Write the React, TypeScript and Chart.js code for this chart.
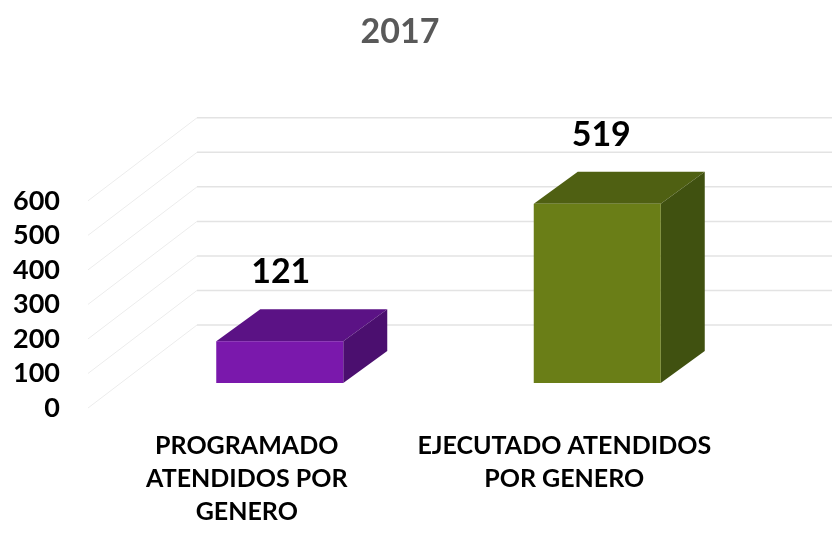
import React, { useEffect, useRef } from "react";
import { Chart, registerables } from "chart.js";

Chart.register(...registerables);

const TITLE = "2017";
const CATEGORIES: string[][] = [
  ["PROGRAMADO", "ATENDIDOS POR", "GENERO"],
  ["EJECUTADO ATENDIDOS", "POR GENERO"],
];
const VALUES: number[] = [121, 519];
const FRONT_COLORS = ["#7A18AC", "#6A7E17"];
const TOP_COLORS = ["#5B1285", "#4F6012"];
const SIDE_COLORS = ["#4B0F6F", "#405110"];
const Y_MIN = 0;
const Y_MAX = 600;
const Y_STEP = 100;

const FONT = "Lato, 'Open Sans', sans-serif";

// 3D geometry (pixels)
const WALL_DX = 109;
const WALL_DY = -83;
const BAR_DX = 33;
const BAR_DY = -25;
const DEPTH_DX = 44;
const DEPTH_DY = -32;

const threeD = {
  id: "threeD",
  beforeDatasetsDraw(chart: any) {
    const { ctx, chartArea, scales } = chart;
    const y = scales.y;
    ctx.save();
    for (let v = Y_MIN; v <= Y_MAX; v += Y_STEP) {
      const yF = y.getPixelForValue(v);
      ctx.beginPath();
      ctx.strokeStyle = "#ececec";
      ctx.lineWidth = 1;
      ctx.moveTo(chartArea.left, yF);
      ctx.lineTo(chartArea.left + WALL_DX, yF + WALL_DY);
      ctx.stroke();
      ctx.beginPath();
      ctx.strokeStyle = "#e3e3e3";
      ctx.lineWidth = 1.5;
      ctx.moveTo(chartArea.left + WALL_DX, yF + WALL_DY);
      ctx.lineTo(chart.width, yF + WALL_DY);
      ctx.stroke();
    }
    ctx.restore();
  },
  afterDatasetsDraw(chart: any) {
    const { ctx } = chart;
    const meta = chart.getDatasetMeta(0);
    ctx.save();
    meta.data.forEach((bar: any, i: number) => {
      const w = bar.width;
      const L = bar.x - w / 2 + BAR_DX;
      const R = bar.x + w / 2 + BAR_DX;
      const T = bar.y + BAR_DY;
      const B = bar.base + BAR_DY;
      // top face
      ctx.fillStyle = TOP_COLORS[i];
      ctx.beginPath();
      ctx.moveTo(L, T);
      ctx.lineTo(L + DEPTH_DX, T + DEPTH_DY);
      ctx.lineTo(R + DEPTH_DX, T + DEPTH_DY);
      ctx.lineTo(R, T);
      ctx.closePath();
      ctx.fill();
      // side face
      ctx.fillStyle = SIDE_COLORS[i];
      ctx.beginPath();
      ctx.moveTo(R, T);
      ctx.lineTo(R + DEPTH_DX, T + DEPTH_DY);
      ctx.lineTo(R + DEPTH_DX, B + DEPTH_DY);
      ctx.lineTo(R, B);
      ctx.closePath();
      ctx.fill();
      // front face
      ctx.fillStyle = FRONT_COLORS[i];
      ctx.fillRect(L, T, R - L, B - T);
      // value label
      ctx.fillStyle = "#000000";
      ctx.font = `bold 34px ${FONT}`;
      ctx.textAlign = "center";
      ctx.textBaseline = "alphabetic";
      ctx.fillText(String(VALUES[i]), (L + R) / 2 + 1 + i * 3, T + DEPTH_DY - 26);
    });
    ctx.restore();
  },
};

export default function App() {
  const ref = useRef<HTMLCanvasElement | null>(null);
  useEffect(() => {
    if (!ref.current) return;
    const chart = new Chart(ref.current, {
      type: "bar",
      data: {
        labels: CATEGORIES,
        datasets: [
          {
            data: VALUES,
            backgroundColor: "rgba(0,0,0,0)",
            borderWidth: 0,
            categoryPercentage: 1,
            barPercentage: 0.4,
          },
        ],
      },
      options: {
        animation: false,
        responsive: false,
        events: [],
        layout: { padding: { left: 0, right: 32, top: 0, bottom: 0 } },
        plugins: {
          legend: { display: false },
          tooltip: { enabled: false },
          title: {
            display: true,
            text: TITLE,
            color: "#595959",
            font: { family: FONT, size: 34, weight: "bold" },
            padding: { top: 12, bottom: 148 },
          },
        },
        scales: {
          x: {
            grid: { display: false, drawTicks: false },
            border: { display: false },
            ticks: {
              color: "#000000",
              font: { family: FONT, size: 25, weight: "bold", lineHeight: 1.32 },
              padding: 21,
              maxRotation: 0,
              autoSkip: false,
            },
            afterFit: (s: any) => {
              s.height = 126;
            },
          },
          y: {
            min: Y_MIN,
            max: Y_MAX,
            grid: { display: false, drawTicks: false },
            border: { display: false },
            ticks: {
              stepSize: Y_STEP,
              color: "#000000",
              font: { family: FONT, size: 27, weight: "bold", lineHeight: 1 },
              padding: 28,
              autoSkip: false,
            },
            afterFit: (s: any) => {
              s.width = 88;
            },
          },
          yRight: {
            position: "right",
            display: true,
            min: Y_MIN,
            max: Y_MAX,
            grid: { display: false, drawTicks: false },
            border: { display: false },
            ticks: { display: false },
            afterFit: (s: any) => {
              s.width = 77;
            },
          },
        },
      },
      plugins: [threeD],
    });
    return () => chart.destroy();
  }, []);
  return (
    <div style={{ position: "absolute", left: 0, top: 0, width: 832, height: 534, background: "#ffffff" }}>
      <canvas ref={ref} width={832} height={534} />
    </div>
  );
}
